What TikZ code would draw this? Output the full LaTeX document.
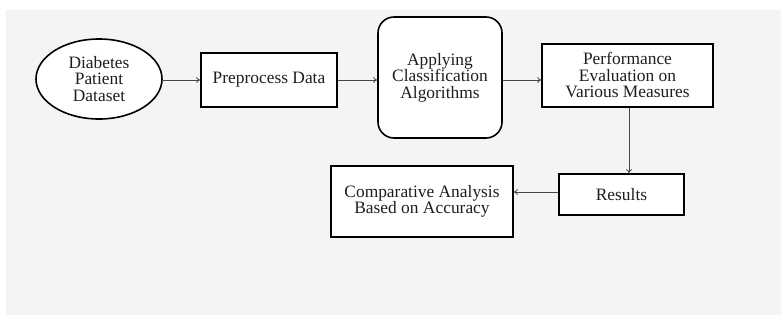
\documentclass[tikz,border=0pt]{standalone}
\usepackage{fontspec}
\setmainfont{Liberation Serif}
\usetikzlibrary{shapes.geometric,arrows.meta}
\definecolor{bgcol}{RGB}{243,244,246}
\definecolor{linecol}{RGB}{70,70,70}
\definecolor{txtcol}{RGB}{30,30,30}
\begin{document}
\begin{tikzpicture}[x=1pt,y=-1pt,
  box/.style={draw=black,line width=1.6pt,fill=white,align=center,inner sep=0pt,text=txtcol,font=\fontsize{17.4}{16.5}\selectfont},
  conn/.style={draw=linecol,line width=0.8pt,-{To[length=4pt,width=6pt]}}]
\useasboundingbox (0,0) rectangle (783,322);
\fill[bgcol] (6,10) rectangle (781,315);
\node[box,ellipse,minimum width=126pt,minimum height=80pt] (ds) at (99,79) {Diabetes\\Patient\\Dataset};
\node[box,rectangle,minimum width=136pt,minimum height=54pt] (pre) at (269,80) {Preprocess Data};
\node[box,rectangle,rounded corners=16pt,minimum width=124pt,minimum height=121pt] (app) at (440,77.5) {Applying\\Classification\\Algorithms};
\node[box,rectangle,minimum width=171pt,minimum height=63pt] (perf) at (627.5,75.5) {Performance\\Evaluation on\\Various Measures};
\node[box,rectangle,minimum width=125pt,minimum height=41pt] (res) at (621.5,194.5) {Results};
\node[box,rectangle,minimum width=182pt,minimum height=71pt] (comp) at (422,201.5) {Comparative Analysis\\Based on Accuracy};
\draw[conn] (ds.east |- 0,80) -- (pre.west |- 0,80);
\draw[conn] (pre.east) -- (app.west |- pre.east);
\draw[conn] (app.east |- 0,80) -- (perf.west |- 0,80);
\draw[conn] (perf.south -| 629,0) -- (res.north -| 629,0);
\draw[conn] (res.west |- 0,192) -- (comp.east |- 0,192);
\end{tikzpicture}
\end{document}
